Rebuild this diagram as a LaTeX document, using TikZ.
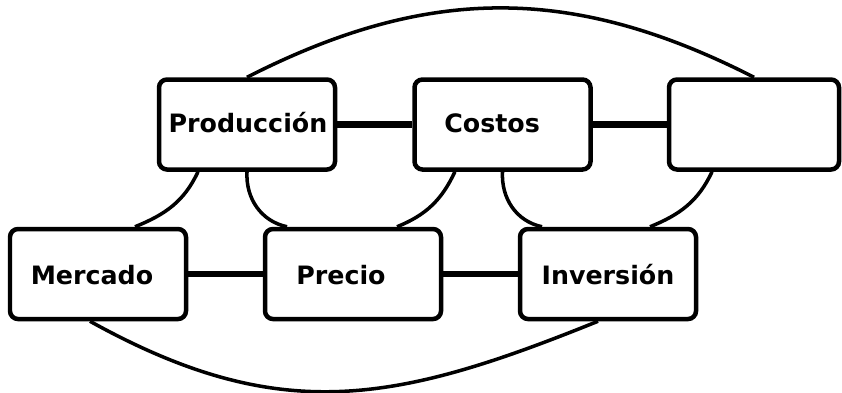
\documentclass[tikz,border=0pt]{standalone}
\usepackage{fontspec}
\setmainfont{DejaVu Sans}
\usetikzlibrary{calc}

\begin{document}
\begin{tikzpicture}[
		caja/.style={draw, line width=3.2pt, rounded corners=0.2cm, fill=white, minimum width=4.4cm, minimum height=2.25cm},
		rotulo/.style={anchor=base, font=\bfseries\fontsize{18}{22}\selectfont},
		enlace/.style={line width=4.4pt},
		curva/.style={line width=2.5pt}]
			%%%%% START %%%%%
			\useasboundingbox (0, 0) rectangle (21.05, -9.8);
			
			\node[caja] (prod) at (6.175, -3.1125) {};
			\node[caja] (costos) at (12.5625, -3.1125) {};
			\node[caja, minimum width=4.25cm] (vacio) at (18.85, -3.1125) {};
			
			\node[caja] (mercado) at (2.45, -6.85) {};
			\node[caja] (precio) at (8.825, -6.85) {};
			\node[caja] (inversion) at (15.2, -6.85) {};
			
			\node[rotulo] (prodT) at ([shift={(0.025, -0.21)}]prod.center) {Producción};
			\node[rotulo] (costosT) at ([shift={(-0.26, -0.21)}]costos.center) {Costos};
			\node[rotulo] (mercadoT) at ([shift={(-0.15, -0.25)}]mercado.center) {Mercado};
			\node[rotulo] (precioT) at ([shift={(-0.3, -0.25)}]precio.center) {Precio};
			\node[rotulo] (inversionT) at ([shift={(0, -0.25)}]inversion.center) {Inversión};
			
			\draw[enlace] (prod) -- (costos);
			\draw[enlace] (costos) -- (vacio);
			\draw[enlace] (mercado) -- (precio);
			\draw[enlace] (precio) -- (inversion);
			
			\draw[curva] (prod.north) to[out=27, in=153, looseness=1.03] (vacio.north);
			\draw[curva] ([xshift=-0.2cm]mercado.south) to[out=-29, in=-158, looseness=1.1] ([xshift=-0.25cm]inversion.south);
			
			\draw[curva] ([xshift=-1.225cm]prod.south) to[out=-115, in=22] ([xshift=0.925cm]mercado.north);
			\draw[curva] (prod.south) to[out=-93, in=168] ([xshift=-1.65cm]precio.north);
			\draw[curva] ([xshift=-1.19cm]costos.south) to[out=-115, in=22] ([xshift=1.1cm]precio.north);
			\draw[curva] (costos.south) to[out=-93, in=168] ([xshift=-1.65cm]inversion.north);
			\draw[curva] ([xshift=-1.05cm]vacio.south) to[out=-115, in=22] ([xshift=1.05cm]inversion.north);
			%%%%% END %%%%%
		\end{tikzpicture}
\end{document}
